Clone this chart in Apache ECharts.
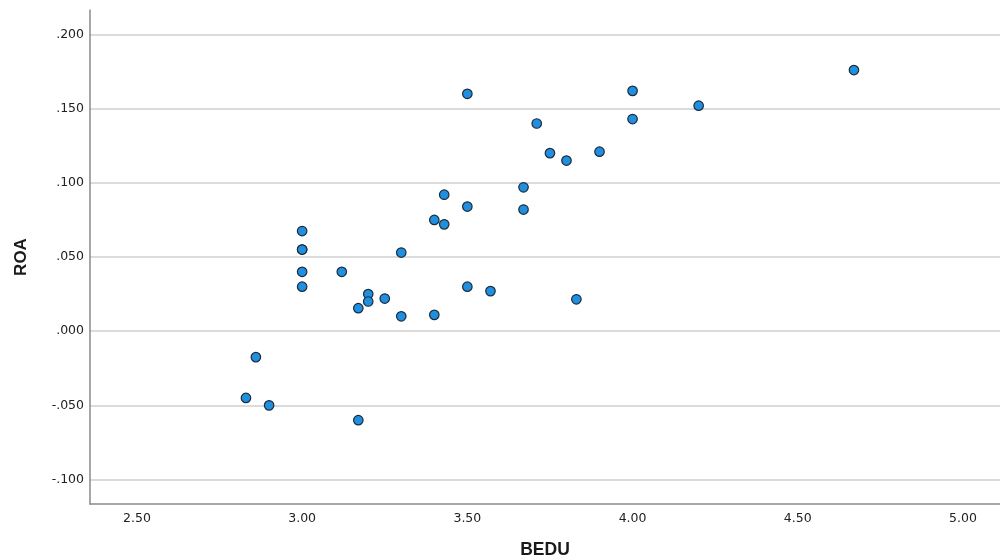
<!DOCTYPE html>
<html>
<head>
<meta charset="utf-8">
<script src="https://cdn.jsdelivr.net/npm/echarts@6/dist/echarts.min.js"></script>
<style>html,body{margin:0;padding:0;background:#fff}#c{width:1000px;height:560px}</style>
</head>
<body>
<div id="c"></div>
<script>
const bedu = [4.67,4.00,4.00,4.20,3.50,3.71,3.75,3.80,3.90,3.67,3.67,3.43,3.50,3.40,3.43,3.00,3.00,3.00,3.30,3.00,3.12,3.00,3.50,3.57,3.20,3.20,3.25,3.17,3.30,3.40,3.83,2.86,2.83,2.90,3.17];
const roa  = [0.176,0.162,0.143,0.152,0.160,0.140,0.120,0.115,0.121,0.097,0.082,0.092,0.084,0.075,0.072,0.0675,0.055,0.055,0.053,0.040,0.040,0.030,0.030,0.027,0.025,0.020,0.022,0.0155,0.010,0.011,0.0215,-0.0175,-0.045,-0.050,-0.060];
const xTicks = [2.5,3.0,3.5,4.0,4.5,5.0];
const yTicks = [-0.1,-0.05,0,0.05,0.1,0.15,0.2];
const xName = 'BEDU';
const yName = 'ROA';

const points = bedu.map((x,i)=>[x, roa[i]]);
const chart = echarts.init(document.getElementById('c'), null, {renderer:'canvas'});
const fmtY = v => { const s = Math.abs(v).toFixed(3).replace(/^0/,''); return (v < -1e-9 ? '-' : '') + s; };
chart.setOption({
  animation:false,
  backgroundColor:'#ffffff',
  grid:{left:90, right:0, top:10, bottom:56, containLabel:false, outerBoundsMode:'none'},
  xAxis:{
    type:'value', min:2.358, max:5.112,
    name:xName, nameLocation:'middle', nameGap:37,
    nameTextStyle:{fontFamily:'Liberation Sans', fontSize:17.5, fontWeight:'bold', color:'#1a1a1a'},
    axisLine:{show:true, onZero:false, lineStyle:{color:'#8a8a8a', width:1.5}},
    axisTick:{show:false, customValues:xTicks},
    axisLabel:{customValues:xTicks, formatter:v=>v.toFixed(2), margin:8, fontFamily:'DejaVu Sans', fontSize:12.5, color:'#222'},
    splitLine:{show:false}
  },
  yAxis:{
    type:'value', min:-0.1165, max:0.2165,
    name:yName, nameLocation:'middle', nameGap:60, nameRotate:90,
    nameTextStyle:{fontFamily:'Liberation Sans', fontSize:17, fontWeight:'bold', color:'#1a1a1a'},
    axisLine:{show:true, onZero:false, lineStyle:{color:'#8a8a8a', width:1.5}},
    axisTick:{show:false, customValues:yTicks},
    axisLabel:{customValues:yTicks, formatter:fmtY, margin:6, fontFamily:'DejaVu Sans', fontSize:12.5, color:'#222'},
    splitLine:{show:true, lineStyle:{color:'#cfcfcf', width:1.5}}
  },
  series:[{
    type:'scatter', data:points, symbol:'circle', symbolSize:9.5,
    itemStyle:{color:'#1e8fe1', borderColor:'#1f2b38', borderWidth:1.2, opacity:1}
  }]
});
</script>
</body>
</html>
